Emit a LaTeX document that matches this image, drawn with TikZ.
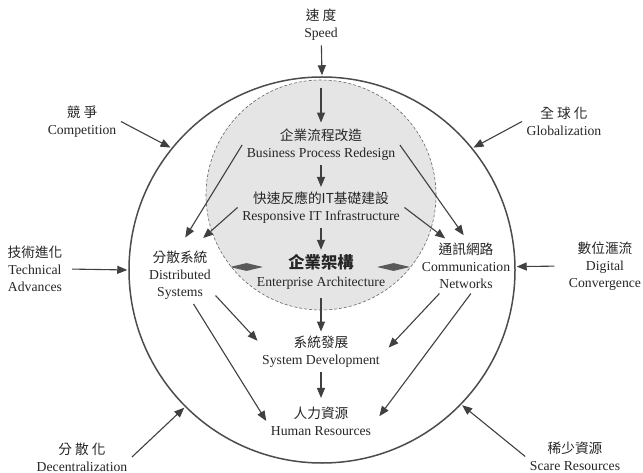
\documentclass[tikz,border=0pt]{standalone}
\usepackage{fontspec}
\setmainfont{Liberation Serif}
\newfontfamily\cjk{Noto Sans CJK TC}
\usetikzlibrary{arrows.meta,shapes.geometric}

\begin{document}
\begin{tikzpicture}[x=1bp,y=-1bp,>={Triangle[length=10bp,width=8bp]},
  tag node/.style={align=center,text=black!85,inner sep=4.5bp,font=\fontsize{13.7bp}{17bp}\selectfont},
  link/.style={->,line width=1.1bp,draw=black!75},
  ring/.style={circle,draw=black!70,line width=1.5bp,minimum size=386bp,inner sep=0pt},
  core/.style={circle,draw=black!60,fill=black!10,dash pattern=on 3bp off 2bp,line width=0.6bp,minimum size=230bp,inner sep=0pt},
  joint/.style={diamond,fill=black!65,minimum width=33bp,minimum height=8bp,inner sep=0pt}]
            \useasboundingbox (0,0) rectangle (643,473);
            \node[core] (inner) at (321,195) {};
            \node[ring] (outer) at (322,270) {};

            % forces outside the ring
            \node[tag node] (speed) at (321,25) {{\cjk 速 度}\\Speed};
            \node[tag node] (comp) at (82,121.5) {{\cjk 競 爭}\\Competition};
            \node[tag node] (glob) at (564,121.5) {{\cjk 全 球 化}\\Globalization};
            \node[tag node] (tech) at (35,269) {{\cjk 技術進化}\\Technical\\Advances};
            \node[tag node] (digital) at (605,266) {{\cjk 數位滙流}\\Digital\\Convergence};
            \node[tag node] (decent) at (82,457) {{\cjk 分 散 化}\\Decentralization};
            \node[tag node] (scare) at (575,456.5) {{\cjk 稀少資源}\\Scare Resources};

            % inside the ring
            \node[tag node] (bpr) at (321,145) {{\cjk 企業流程改造}\\Business Process Redesign};
            \node[tag node] (rit) at (321,207.5) {{\cjk 快速反應的IT基礎建設}\\Responsive IT Infrastructure};
            \node[tag node,font=\fontsize{13.7bp}{18bp}\selectfont] (ea) at (321,272) {{\cjk\bfseries\fontsize{16.3bp}{18bp}\selectfont 企業架構}\\Enterprise Architecture};
            \node[tag node] (sysdev) at (321,352) {{\cjk 系統發展}\\System Development};
            \node[tag node] (hr) at (321,421) {{\cjk 人力資源}\\Human Resources};
            \node[tag node] (dist) at (180,275) {{\cjk 分散系統}\\Distributed\\Systems};
            \node[tag node] (comm) at (466,266) {{\cjk 通訊網路}\\Communication\\Networks};
            \node[joint] (dleft) at (246.5,267) {};
            \node[joint] (dright) at (393.5,267) {};

            \path[every edge/.append style={link}]
                (speed) edge[shorten >=1bp] (outer.north)
                (comp.east) edge[shorten >=1bp] (outer.141)
                (glob.west) edge[shorten >=1bp] (outer.39)
                (tech.east) edge[shorten <=5bp,shorten >=1bp] (outer.west)
                (digital.west) edge[shorten <=10bp,shorten >=1bp] (outer.1)
                (decent.east) edge[shorten >=1bp] (outer.225)
                (scare.west) edge[shorten >=1bp] (outer.-44)
                (inner.north) edge[shorten <=8bp,shorten >=2bp] (bpr)
                (bpr) edge (rit)
                (rit) edge (ea)
                (ea) edge[shorten <=4bp] (sysdev)
                (sysdev) edge[shorten >=4bp] (hr)
                (bpr.west) edge[shorten >=10bp] (dist.north)
                (rit.west) edge[shorten >=12bp] (dist.64)
                (bpr.east) edge[shorten >=4bp] (comm.north)
                (rit.east) edge (comm.127)
                (dist.-30) edge (sysdev.170)
                (dist.-65) edge (hr.west)
                (comm.226) edge[shorten >=6bp] (sysdev.east)
                (comm.280) edge[shorten >=6bp] (hr.east)
                ;
        \end{tikzpicture}
\end{document}
